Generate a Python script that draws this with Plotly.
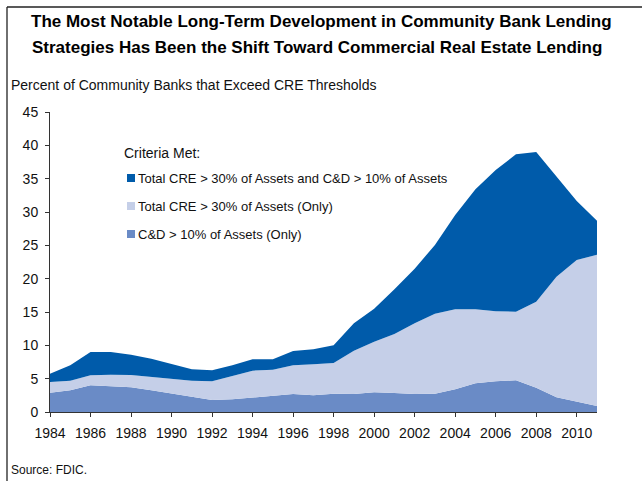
import plotly.graph_objects as go

years = list(range(1984, 2012))

# C&D > 10% of Assets (Only)  - bottom layer
cd_only = [2.9, 3.25, 4.0, 3.8, 3.7, 3.25, 2.75, 2.25, 1.8, 1.9, 2.2, 2.5, 2.7, 2.5,
           2.75, 2.7, 2.95, 2.85, 2.7, 2.75, 3.4, 4.3, 4.6, 4.75, 3.65, 2.2, 1.55, 0.9]
# cumulative top of middle layer (Total CRE > 30% only)
mid_top = [4.5, 4.7, 5.5, 5.6, 5.55, 5.25, 4.95, 4.7, 4.6, 5.4, 6.2, 6.35, 7.0, 7.15,
           7.35, 9.2, 10.55, 11.7, 13.3, 14.75, 15.4, 15.4, 15.1, 15.05, 16.55, 20.3, 22.8, 23.6]
# cumulative total (top of dark layer)
total = [5.75, 7.0, 9.0, 9.0, 8.6, 8.0, 7.2, 6.4, 6.25, 7.0, 7.9, 7.9, 9.15, 9.4,
         10.0, 13.3, 15.5, 18.4, 21.5, 25.05, 29.55, 33.4, 36.3, 38.65, 39.0, 35.3, 31.65, 28.7]

cre_only = [round(m - c, 3) for m, c in zip(mid_top, cd_only)]
both = [round(t - m, 3) for t, m in zip(total, mid_top)]

names = ["C&D > 10% of Assets (Only)",
         "Total CRE > 30% of Assets (Only)",
         "Total CRE > 30% of Assets and C&D > 10% of Assets"]
colors = ["#6A8BC6", "#C5CFE8", "#005BAA"]
series = [cd_only, cre_only, both]

FONT = "Liberation Sans, Arial, sans-serif"

fig = go.Figure()
for name, col, vals in zip(names, colors, series):
    fig.add_trace(go.Scatter(
        x=years, y=vals, name=name, stackgroup="one", mode="lines",
        line=dict(width=0, color=col), fillcolor=col, showlegend=False,
        hovertemplate="%{x}: %{y}<extra>" + name + "</extra>"))

# plot-area geometry in px
L, R, T, B = 50, 45, 112, 69
W, H = 642 - L - R, 481 - T - B

def px(x):
    return (x - L) / W

def py(y):
    return (481 - B - y) / H

shapes = []
# frame lines (left and top)
shapes.append(dict(type="line", xref="paper", yref="paper", x0=px(7), x1=px(645), y0=py(7), y1=py(7),
                   line=dict(color="#222222", width=1.3)))
shapes.append(dict(type="line", xref="paper", yref="paper", x0=px(7), x1=px(7), y0=py(7), y1=py(485),
                   line=dict(color="#222222", width=1.3)))

annotations = []
# legend
annotations.append(dict(xref="paper", yref="paper", x=px(122), y=py(153), text="Criteria Met:",
                        showarrow=False, xanchor="left", yanchor="middle",
                        font=dict(family=FONT, size=14, color="#111111")))
leg_order = [2, 1, 0]
for i, idx in enumerate(leg_order):
    yc = 178 + i * 28
    shapes.append(dict(type="rect", xref="paper", yref="paper",
                       x0=px(127), x1=px(135), y0=py(yc - 4), y1=py(yc + 4),
                       fillcolor=colors[idx], line=dict(width=0)))
    annotations.append(dict(xref="paper", yref="paper", x=px(136), y=py(yc), text=names[idx],
                            showarrow=False, xanchor="left", yanchor="middle",
                            font=dict(family=FONT, size=13, color="#111111")))

annotations.append(dict(xref="paper", yref="paper", x=px(9), y=py(85),
                        text="Percent of Community Banks that Exceed CRE Thresholds",
                        showarrow=False, xanchor="left", yanchor="middle",
                        font=dict(family=FONT, size=14, color="#111111")))
annotations.append(dict(xref="paper", yref="paper", x=px(9), y=py(470),
                        text="Source: FDIC.", showarrow=False, xanchor="left", yanchor="middle",
                        font=dict(family=FONT, size=12, color="#111111")))
annotations.append(dict(xref="paper", yref="paper", x=px(321), y=py(22),
                        text="<b>The Most Notable Long-Term Development in Community Bank Lending</b>",
                        showarrow=False, xanchor="center", yanchor="middle",
                        font=dict(family=FONT, size=17, color="#000000")))
annotations.append(dict(xref="paper", yref="paper", x=px(317), y=py(47),
                        text="<b>Strategies Has Been the Shift Toward Commercial Real Estate Lending</b>",
                        showarrow=False, xanchor="center", yanchor="middle",
                        font=dict(family=FONT, size=17, color="#000000")))

fig.update_layout(
    width=642, height=481,
    margin=dict(l=L, r=R, t=T, b=B, pad=0),
    paper_bgcolor="white", plot_bgcolor="white",
    font=dict(family=FONT, size=14, color="#111111"),
    showlegend=False,
    shapes=shapes, annotations=annotations,
    xaxis=dict(range=[1984, 2011], tickmode="linear", tick0=1984, dtick=2,
               showgrid=False, zeroline=False, showline=True, linecolor="#333333", linewidth=1,
               ticks="outside", ticklen=4, tickcolor="#333333", ticklabelstandoff=4,
               tickfont=dict(family=FONT, size=14, color="#111111"), fixedrange=True),
    yaxis=dict(range=[0, 45], tickmode="linear", tick0=0, dtick=5,
               showgrid=False, zeroline=False, showline=True, linecolor="#333333", linewidth=1,
               ticks="outside", ticklen=4, tickcolor="#333333", ticklabelstandoff=4,
               tickfont=dict(family=FONT, size=14, color="#111111"), fixedrange=True),
)

fig.write_html("out.html", config={"displayModeBar": False},
               post_script="document.body.style.margin='0';document.body.style.overflow='hidden';")
